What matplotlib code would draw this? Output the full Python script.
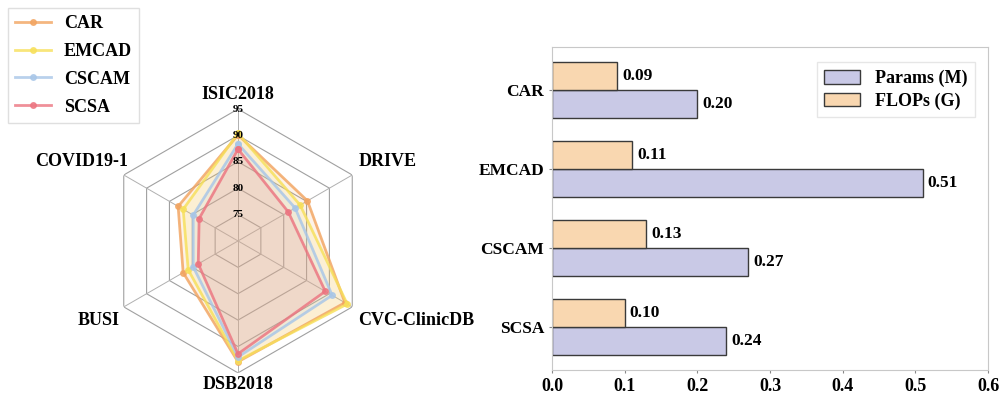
import numpy as np
import matplotlib.pyplot as plt

plt.rcParams['font.family'] = ['Liberation Serif', 'DejaVu Serif']
plt.rcParams['font.weight'] = 'bold'

# radar data (accuracy-style scores per dataset)
datasets = ['ISIC2018', 'DRIVE', 'CVC-ClinicDB', 'DSB2018', 'BUSI', 'COVID19-1']
models = ['CAR', 'EMCAD', 'CSCAM', 'SCSA']
car = [90.1, 85.2, 93.4, 92.9, 82.0, 83.1]
emcad = [90.4, 83.6, 93.9, 92.7, 80.9, 82.0]
cscam = [88.4, 82.5, 90.6, 92.0, 79.8, 79.8]
scsa = [87.4, 81.0, 89.1, 91.4, 78.7, 78.5]
radar_colors = ['#f2a460', '#f7e05a', '#a8c6e8', '#ec7480']
rings = [75, 80, 85, 90, 95]

# bar data
bar_models = ['CAR', 'EMCAD', 'CSCAM', 'SCSA']
params = [0.20, 0.51, 0.27, 0.24]
flops = [0.09, 0.11, 0.13, 0.10]

fig = plt.figure(figsize=(10, 3.95), dpi=100)

# ---- radar ----
ax = fig.add_axes([0.106, 0.056, 0.264, 0.668], projection='polar')
ax.set_theta_offset(np.pi / 2)
ax.set_theta_direction(-1)
ax.set_ylim(70, 95)
ax.set_xticks([])
ax.set_yticks([])
ax.grid(False)
ax.spines['polar'].set_visible(False)

n = len(datasets)
angles = np.linspace(0, 2 * np.pi, n, endpoint=False)
closed = np.append(angles, angles[0])

for r in rings:
    ax.plot(closed, [r] * (n + 1), color='#a0a0a0', lw=0.8, zorder=1)
for a in angles:
    ax.plot([a, a], [70, 95], color='#b0b0b0', lw=0.7, zorder=1)

for name, vals, c in zip(models, [car, emcad, cscam, scsa], radar_colors):
    v = np.append(vals, vals[0])
    ax.plot(closed, v, color=c, lw=3, alpha=0.8, marker='o', markersize=4,
            label=name, zorder=3)
    ax.fill(closed, v, color=c, alpha=0.14, zorder=2)

for r in rings:
    ax.text(0, r, str(r), ha='center', va='center', fontsize=8, zorder=5)

# label offsets (pixels) from the outer vertex of each spoke
label_off = [(0, 15, 'center'), (6, 13, 'left'), (6, -14, 'left'),
             (0, -12, 'center'), (-4, -14, 'right'), (4, 13, 'right')]
for a, name, (dx, dy, ha) in zip(angles, datasets, label_off):
    ax.annotate(name, xy=(a, 95), xytext=(dx, dy), textcoords='offset pixels',
                ha=ha, va='center', fontsize=13, annotation_clip=False)

handles, labels = ax.get_legend_handles_labels()
for hd in handles:
    hd.set_linewidth(2)
fig.legend(handles, labels, loc='upper left', bbox_to_anchor=(0.008, 0.98),
           borderaxespad=0, fontsize=13, fancybox=False, edgecolor='#d8d8d8',
           handlelength=2.0, handletextpad=0.7, labelspacing=0.6,
           borderpad=0.4)

# ---- horizontal bars ----
bx = fig.add_axes([0.552, 0.0633, 0.436, 0.8177])
y = np.arange(len(bar_models))
h = 0.355
bx.barh(y + h / 2, params, height=h, color='#c9c9e6', edgecolor='#3a3a3a',
        lw=1, label='Params (M)')
bx.barh(y - h / 2, flops, height=h, color='#f9d7b0', edgecolor='#3a3a3a',
        lw=1, label='FLOPs (G)')
for i in range(len(bar_models)):
    bx.text(params[i] + 0.007, y[i] + h / 2, f'{params[i]:.2f}',
            va='center', ha='left', fontsize=12.5)
    bx.text(flops[i] + 0.007, y[i] - h / 2, f'{flops[i]:.2f}',
            va='center', ha='left', fontsize=12.5)

bx.set_xlim(0, 0.6)
bx.set_ylim(3.54, -0.54)
bx.set_yticks(y)
bx.set_yticklabels(bar_models, fontsize=12.5)
bx.set_xticks(np.arange(0, 0.61, 0.1))
bx.set_xticklabels([f'{t:.1f}' for t in np.arange(0, 0.61, 0.1)], fontsize=13)
for s in bx.spines.values():
    s.set_color('#c8c8c8')
bx.tick_params(length=2, color='#888888')
bx.legend(loc='upper right', fontsize=13, fancybox=False,
          edgecolor='#e0e0e0', handlelength=2.0, handleheight=0.8,
          borderpad=0.4, labelspacing=0.3, bbox_to_anchor=(0.99, 0.98))

fig.savefig('out.png', dpi=100)
